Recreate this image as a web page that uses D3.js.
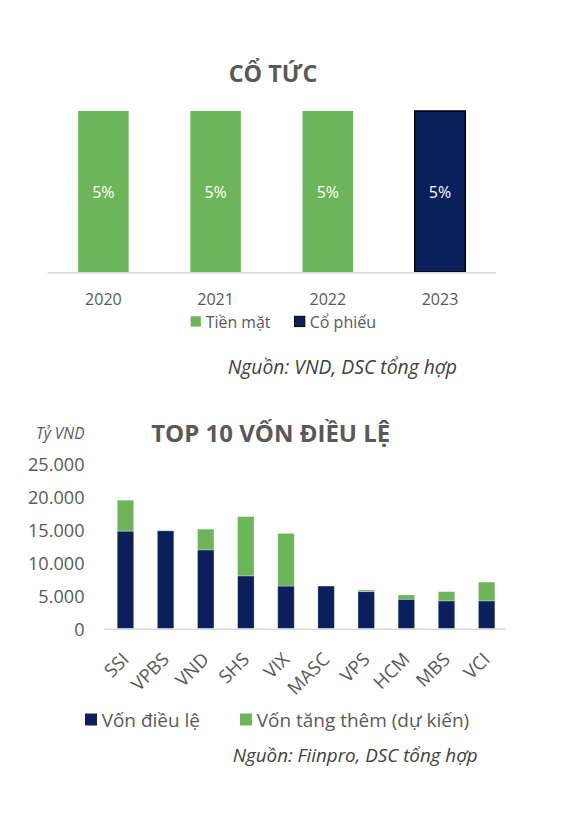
<!DOCTYPE html>
<html>
<head>
<meta charset="utf-8">
<script src="https://cdn.jsdelivr.net/npm/d3@7/dist/d3.min.js"></script>
<style>
  html, body { margin: 0; padding: 0; background: #fff; }
  svg { display: block; font-family: "Open Sans", sans-serif; }
</style>
</head>
<body>
<svg id="chart" width="566" height="821"></svg>
<script>
// ---- Chart 1 data: Cổ tức ----
const years = ["2020", "2021", "2022", "2023"];
const cashDividend = [5, 5, 5, 0];   // Tiền mặt (%)
const stockDividend = [0, 0, 0, 5];  // Cổ phiếu (%)
const divSeriesNames = ["Tiền mặt", "Cổ phiếu"];

// ---- Chart 2 data: Top 10 vốn điều lệ (tỷ VND) ----
const companies = ["SSI", "VPBS", "VND", "SHS", "VIX", "MASC", "VPS", "HCM", "MBS", "VCI"];
const charterCapital = [14800, 14850, 11950, 8000, 6450, 6450, 5600, 4450, 4200, 4200];
const plannedIncrease = [4700, 0, 3150, 9000, 8000, 0, 250, 650, 1400, 2850];
const capSeriesNames = ["Vốn điều lệ", "Vốn tăng thêm (dự kiến)"];
const capTicks = [0, 5000, 10000, 15000, 20000, 25000];

const GREEN = "#6DB559";
const NAVY = "#0A1F5C";
const GREY = "#595959";

const svg = d3.select("#chart");

// scale a text's font size so that it spans the given width
function fit(sel, width) {
  const n = sel.node();
  const fs = parseFloat(sel.attr("font-size"));
  const w = n.getComputedTextLength();
  if (w > 0) sel.attr("font-size", (fs * width / w).toFixed(2));
  return sel;
}

// ================= Chart 1 =================
{
  const g = svg.append("g");
  fit(g.append("text").attr("x", 273).attr("y", 73).attr("text-anchor", "middle")
    .attr("dominant-baseline", "central").attr("font-weight", "bold")
    .attr("font-size", 22).attr("fill", GREY).text("CỔ TỨC"), 88.5);

  const x = d3.scaleBand().domain(years).range([47.3, 496.1]).paddingInner(0.55).paddingOuter(0.275);
  const y = d3.scaleLinear().domain([0, 5]).range([272, 111]);

  const rows = years.map((yr, i) => ({ year: yr, cash: cashDividend[i], stock: stockDividend[i] }));
  const stack = d3.stack().keys(["cash", "stock"])(rows);
  const colors = { cash: GREEN, stock: NAVY };

  stack.forEach(layer => {
    const key = layer.key;
    layer.forEach(seg => {
      const v = seg[1] - seg[0];
      if (v <= 0) return;
      g.append("rect")
        .attr("x", x(seg.data.year)).attr("width", x.bandwidth())
        .attr("y", y(seg[1])).attr("height", y(seg[0]) - y(seg[1]))
        .attr("fill", colors[key])
        .attr("stroke", key === "stock" ? "#000" : "none")
        .attr("stroke-width", key === "stock" ? 1.5 : 0);
      fit(g.append("text")
        .attr("x", x(seg.data.year) + x.bandwidth() / 2)
        .attr("y", (y(seg[0]) + y(seg[1])) / 2)
        .attr("text-anchor", "middle").attr("dominant-baseline", "central")
        .attr("font-size", 15).attr("fill", "#fff").text(v + "%"), 22.3);
    });
  });

  g.append("line").attr("x1", 47.5).attr("x2", 496).attr("y1", 272.8).attr("y2", 272.8)
    .attr("stroke", "#d9d9d9").attr("stroke-width", 1.5);

  const xAxis = g.append("g").attr("transform", "translate(0,272)")
    .call(d3.axisBottom(x).tickSize(0).tickPadding(0));
  xAxis.select(".domain").remove();
  xAxis.selectAll("text").attr("y", 27).attr("dy", "0.35em")
    .attr("font-size", 16).attr("fill", GREY).attr("font-family", "Open Sans, sans-serif");

  // legend
  const leg = [
    { name: divSeriesNames[0], color: GREEN, stroke: "none", x: 190.6, w: 64.7 },
    { name: divSeriesNames[1], color: NAVY, stroke: "#000", x: 294.5, w: 66.5 }
  ];
  leg.forEach(l => {
    g.append("rect").attr("x", l.x).attr("y", 316.3).attr("width", 10.3).attr("height", 10.3)
      .attr("fill", l.color).attr("stroke", l.stroke).attr("stroke-width", 1);
    fit(g.append("text").attr("x", l.x + 15.2).attr("y", 321.5).attr("dominant-baseline", "central")
      .attr("font-size", 15).attr("fill", GREY).text(l.name), l.w);
  });

  fit(g.append("text").attr("x", 457).attr("y", 366).attr("text-anchor", "end")
    .attr("dominant-baseline", "central").attr("font-style", "italic")
    .attr("font-size", 16).attr("fill", "#404040").text("Nguồn: VND, DSC tổng hợp"), 229.5);
}

// ================= Chart 2 =================
{
  const g = svg.append("g");
  fit(g.append("text").attr("x", 270.7).attr("y", 432).attr("text-anchor", "middle")
    .attr("dominant-baseline", "central").attr("font-weight", "bold")
    .attr("font-size", 22).attr("fill", GREY).text("TOP 10 VỐN ĐIỀU LỆ"), 239.3);
  fit(g.append("text").attr("x", 84.5).attr("y", 433).attr("text-anchor", "end")
    .attr("dominant-baseline", "central").attr("font-style", "italic")
    .attr("font-size", 14).attr("fill", GREY).text("Tỷ VND"), 48.5);

  const x = d3.scaleBand().domain(companies).range([105.4, 506.7]).paddingInner(0.59).paddingOuter(0.295);
  const y = d3.scaleLinear().domain([0, 25000]).range([628.5, 464]);

  const loc = d3.formatLocale({ decimal: ",", thousands: ".", grouping: [3], currency: ["", ""] });
  const fmt = loc.format(",.0f");

  const yAxis = g.append("g").attr("transform", "translate(84.5,0)")
    .call(d3.axisLeft(y).tickValues(capTicks).tickFormat(fmt).tickSize(0).tickPadding(0));
  yAxis.select(".domain").remove();
  yAxis.selectAll("text").attr("font-size", 18).attr("fill", GREY)
    .attr("font-family", "Open Sans, sans-serif").attr("dy", "0.38em");
  // size the tick labels so the widest ("25.000") spans its width in the reference
  {
    const widest = yAxis.selectAll("text").filter(d => d === 25000);
    const w = widest.node().getComputedTextLength();
    yAxis.selectAll("text").attr("font-size", (18 * 56.5 / w).toFixed(2));
  }

  const rows = companies.map((c, i) => ({ name: c, base: charterCapital[i], extra: plannedIncrease[i] }));
  const stack = d3.stack().keys(["base", "extra"])(rows);
  const colors = { base: NAVY, extra: GREEN };
  stack.forEach(layer => {
    layer.forEach(seg => {
      if (seg[1] - seg[0] <= 0) return;
      g.append("rect")
        .attr("x", x(seg.data.name)).attr("width", x.bandwidth())
        .attr("y", y(seg[1])).attr("height", y(seg[0]) - y(seg[1]))
        .attr("fill", colors[layer.key])
        .attr("stroke", "rgba(255,255,255,0.35)").attr("stroke-width", 0.8);
    });
  });

  g.append("line").attr("x1", 104.3).attr("x2", 505.5).attr("y1", 629.3).attr("y2", 629.3)
    .attr("stroke", "#d9d9d9").attr("stroke-width", 1.5);

  const xAxis = g.append("g").attr("transform", "translate(0,629)")
    .call(d3.axisBottom(x).tickSize(0).tickPadding(0));
  xAxis.select(".domain").remove();
  xAxis.selectAll("text")
    .attr("text-anchor", "end").attr("dy", "0.35em").attr("y", 0)
    .attr("transform", "translate(0,27) rotate(-45)")
    .attr("font-size", 18.5).attr("fill", GREY).attr("font-family", "Open Sans, sans-serif");

  const leg = [
    { name: capSeriesNames[0], color: NAVY, x: 85, w: 98.3 },
    { name: capSeriesNames[1], color: GREEN, x: 240, w: 212.6 }
  ];
  leg.forEach(l => {
    g.append("rect").attr("x", l.x).attr("y", 713.5).attr("width", 12).attr("height", 12).attr("fill", l.color);
    fit(g.append("text").attr("x", l.x + 16.7).attr("y", 719.5).attr("dominant-baseline", "central")
      .attr("font-size", 18).attr("fill", GREY).text(l.name), l.w);
  });

  fit(g.append("text").attr("x", 477.7).attr("y", 755).attr("text-anchor", "end")
    .attr("dominant-baseline", "central").attr("font-style", "italic")
    .attr("font-size", 18).attr("fill", "#404040").text("Nguồn: Fiinpro, DSC tổng hợp"), 245);
}
</script>
</body>
</html>
